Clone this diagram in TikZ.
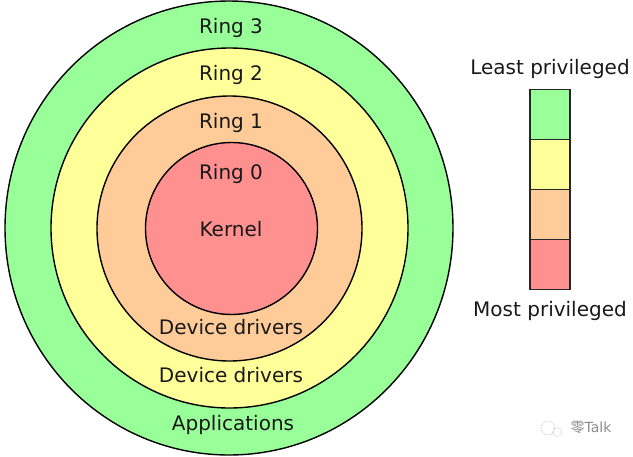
\documentclass[tikz,border=0pt]{standalone}
\usepackage{fontspec}
\setmainfont{DejaVu Sans}
\newfontfamily\cjkfont{Noto Sans CJK SC}
\definecolor{ringgreen}{HTML}{99FF99}
\definecolor{ringyellow}{HTML}{FFFF99}
\definecolor{ringorange}{HTML}{FFCC99}
\definecolor{ringred}{HTML}{FF9090}
\tikzset{
  ring/.style={draw=black,line width=1.4pt},
  lab/.style={font=\fontsize{20}{22}\selectfont,inner sep=0pt,text=black!90},
  levelbox/.style={draw=black!85,line width=1.1pt}
}
\begin{document}
\begin{tikzpicture}[x=1pt,y=-1pt]
            \useasboundingbox (0,0) rectangle (633,456);
            %rings
            \draw[ring,fill=ringgreen] (229,228) ellipse (224 and 227);
            \draw[ring,fill=ringyellow] (229.5,228) ellipse (178.5 and 180);
            \draw[ring,fill=ringorange] (229.5,228.5) ellipse (132.5 and 132.5);
            \draw[ring,fill=ringred] (231.5,228.5) ellipse (86 and 86);
            %ring labels
            \node[lab] (ringthree) at (231,28) {Ring 3};
            \node[lab] (ringtwo) at (231,75) {Ring 2};
            \node[lab] (ringone) at (231,123) {Ring 1};
            \node[lab] (ringzero) at (231,174) {Ring 0};
            \node[lab] (kernel) at (231,229) {Kernel};
            \node[lab] (driversone) at (231,327.5) {Device drivers};
            \node[lab] (driverstwo) at (231,375.5) {Device drivers};
            \node[lab] (apps) at (233,425) {Applications};
            %scale
            \draw[levelbox,fill=ringgreen] (530,89.5) rectangle (570,139.5);
            \draw[levelbox,fill=ringyellow] (530,139.5) rectangle (570,189.5);
            \draw[levelbox,fill=ringorange] (530,189.5) rectangle (570,239.5);
            \draw[levelbox,fill=ringred] (530,239.5) rectangle (570,289.5);
            \node[lab] (least) at (550,69) {Least privileged};
            \node[lab] (most) at (550,311) {Most privileged};
            %watermark
            \draw[black!30,densely dotted,line width=0.6pt] (548,428) circle (7);
            \draw[black!30,densely dotted,line width=0.6pt] (557,432) circle (4.5);
            \node[inner sep=0pt,text=black!45,font=\fontsize{14}{16}\selectfont] (mark) at (591,428) {{\cjkfont 零}Talk};
\end{tikzpicture}
\end{document}
